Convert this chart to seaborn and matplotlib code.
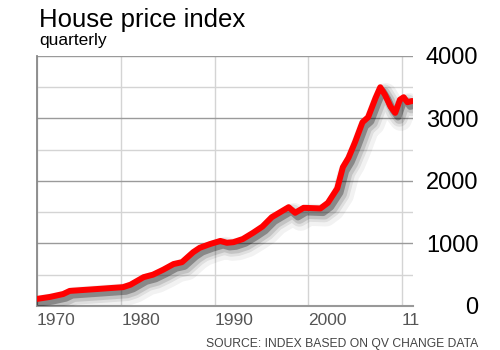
import numpy as np
import pandas as pd
import matplotlib
matplotlib.use('Agg')
import matplotlib.pyplot as plt
import matplotlib.patheffects as pe
import seaborn as sns

# datos (indice trimestral, aprox.)
years = [1971.0, 1972.4, 1973.8, 1974.5, 1977.4, 1980.2, 1981.0, 1982.4, 1983.4,
         1984.5, 1985.6, 1986.5, 1987.7, 1988.4, 1989.5, 1990.6, 1991.3, 1992.0,
         1993.0, 1994.1, 1995.1, 1996.1, 1997.0, 1997.9, 1998.6, 1999.5, 2001.3,
         2002.1, 2003.1, 2003.7, 2004.3, 2005.0, 2005.8, 2006.4, 2007.2, 2007.7,
         2008.2, 2008.8, 2009.3, 2009.8, 2010.2, 2010.6, 2011.1]
index_values = [112, 144, 190, 240, 270, 300, 340, 460, 500,
                580, 670, 700, 860, 930, 990, 1040, 1010, 1020,
                1070, 1170, 1270, 1420, 1500, 1580, 1490, 1570, 1560,
                1650, 1880, 2220, 2370, 2620, 2940, 3020, 3330, 3500,
                3380, 3190, 3090, 3300, 3340, 3260, 3280]

x_tick_pos = [1971, 1980, 1990, 2000, 2010]
x_tick_labels = ['1970', '1980', '1990', '2000', '11']
y_ticks = [0, 1000, 2000, 3000, 4000]
y_minor = [500, 1500, 2500, 3500]

df = pd.DataFrame({'year': years, 'index': index_values})

sns.set_style('white')
plt.rcParams['font.family'] = ['Liberation Sans', 'DejaVu Sans']

fig = plt.figure(figsize=(5, 3.5), dpi=100)
ax = fig.add_axes([0.074, 0.126, 0.752, 0.714])

# sombra difusa + linea roja
shadow = [
    pe.SimpleLineShadow(offset=(4, -5), shadow_color='#000000', alpha=0.05, linewidth=16),
    pe.SimpleLineShadow(offset=(3, -4), shadow_color='#000000', alpha=0.08, linewidth=12),
    pe.SimpleLineShadow(offset=(3, -4), shadow_color='#000000', alpha=0.12, linewidth=8),
    pe.SimpleLineShadow(offset=(2, -3), shadow_color='#000000', alpha=0.3, linewidth=5),
    pe.Normal(),
]
sns.lineplot(data=df, x='year', y='index', ax=ax, color='#ff0000', linewidth=4.3,
             solid_capstyle='round', solid_joinstyle='round', path_effects=shadow, zorder=5)

ax.set_xlim(1971, 2011.2)
ax.set_ylim(0, 4000)

ax.set_xticks(x_tick_pos)
ax.set_xticklabels(x_tick_labels)
ax.set_yticks(y_ticks)
ax.set_yticks(y_minor, minor=True)
ax.set_yticklabels([str(v) for v in y_ticks])
ax.yaxis.tick_right()

ax.grid(False)
ax.grid(True, axis='y', which='major', color='#9a9a9a', linewidth=1.0)
ax.grid(True, axis='y', which='minor', color='#d4d4d4', linewidth=1.0)
ax.grid(True, axis='x', which='major', color='#d4d4d4', linewidth=1.0)
ax.set_axisbelow(True)

ax.tick_params(axis='y', which='both', length=0, pad=47, labelsize=17, labelcolor='black')
for lbl in ax.get_yticklabels():
    lbl.set_horizontalalignment('right')
ax.tick_params(axis='x', length=0, pad=5, labelsize=12.5, labelcolor='#555555')
for lbl in ax.get_xticklabels():
    lbl.set_horizontalalignment('left')

for s in ['top', 'right']:
    ax.spines[s].set_visible(False)
ax.spines['left'].set_color('#888888')
ax.spines['left'].set_linewidth(1.3)
ax.spines['bottom'].set_color('#999999')
ax.spines['bottom'].set_linewidth(1.5)

ax.set_xlabel('')
ax.set_ylabel('')

fig.text(0.078, 0.923, 'House price index', fontsize=18.5, color='black', va='baseline')
fig.text(0.078, 0.872, 'quarterly', fontsize=12.5, color='black', va='baseline')
fig.text(0.956, 0.009, 'SOURCE: INDEX BASED ON QV CHANGE DATA', fontsize=8.7,
         color='#444444', ha='right', va='baseline')

fig.savefig('out.png', dpi=100)
